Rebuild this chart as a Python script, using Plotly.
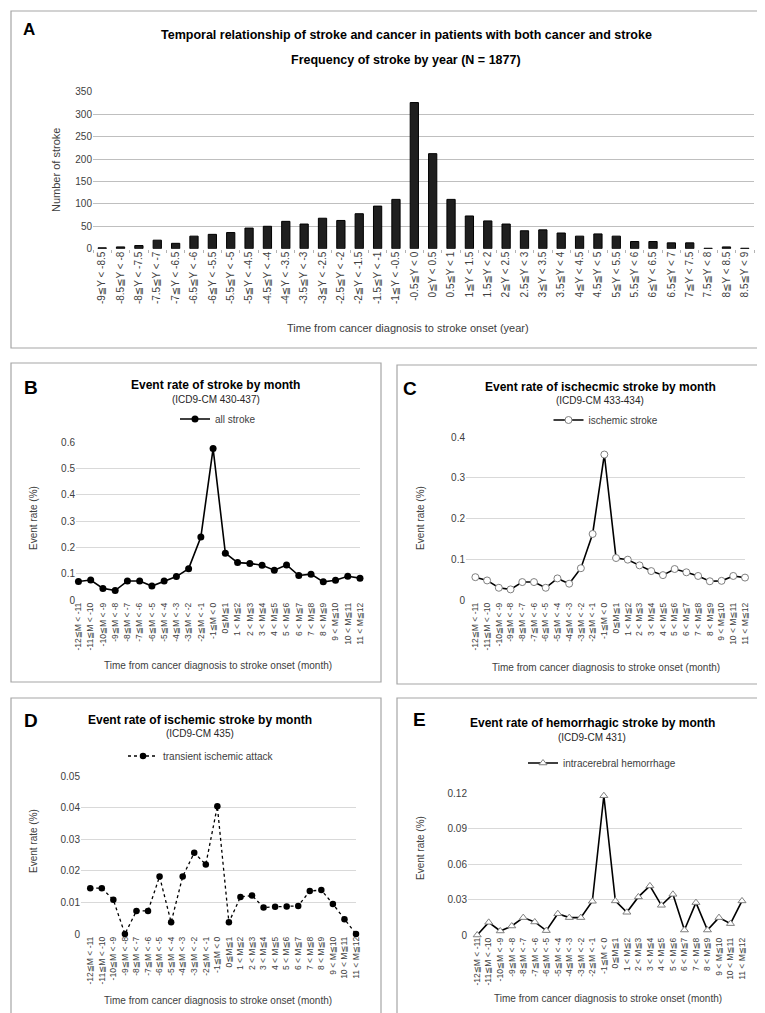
import plotly.graph_objects as go

W, H = 765, 1013

# ---------------- data ----------------
year_labels = ["-9≦Y < -8.5", "-8.5≦Y < -8", "-8≦Y < -7.5", "-7.5≦Y < -7", "-7≦Y < -6.5",
               "-6.5≦Y < -6", "-6≦Y < -5.5", "-5.5≦Y < -5", "-5≦Y < -4.5", "-4.5≦Y < -4",
               "-4≦Y < -3.5", "-3.5≦Y < -3", "-3≦Y < -2.5", "-2.5≦Y < -2", "-2≦Y < -1.5",
               "-1.5≦Y < -1", "-1≦Y < -0.5", "-0.5≦Y < 0", "0≦Y < 0.5", "0.5≦Y < 1",
               "1≦Y < 1.5", "1.5≦Y < 2", "2≦Y < 2.5", "2.5≦Y < 3", "3≦Y < 3.5",
               "3.5≦Y < 4", "4≦Y < 4.5", "4.5≦Y < 5", "5≦Y < 5.5", "5.5≦Y < 6",
               "6≦Y < 6.5", "6.5≦Y < 7", "7≦Y < 7.5", "7.5≦Y < 8", "8≦Y < 8.5", "8.5≦Y < 9"]
stroke_by_year = [2, 4, 7, 19, 12, 28, 32, 36, 46, 50, 61, 55, 68, 63, 78, 95, 110,
                  326, 212, 110, 73, 62, 55, 40, 42, 35, 28, 33, 28, 16, 16, 13, 13, 1, 4, 1]

month_labels = ["-12≦M < -11", "-11≦M < -10", "-10≦M < -9", "-9≦M < -8", "-8≦M < -7",
                "-7≦M < -6", "-6≦M < -5", "-5≦M < -4", "-4≦M < -3", "-3≦M < -2",
                "-2≦M < -1", "-1≦M < 0", "0≦M≦1", "1 < M≦2", "2 < M≦3", "3 < M≦4",
                "4 < M≦5", "5 < M≦6", "6 < M≦7", "7 < M≦8", "8 < M≦9", "9 < M≦10",
                "10 < M≦11", "11 < M≦12"]
all_stroke_rate = [0.070, 0.076, 0.044, 0.036, 0.072, 0.072, 0.053, 0.072, 0.089, 0.119,
                   0.239, 0.575, 0.178, 0.142, 0.139, 0.132, 0.113, 0.133, 0.093, 0.098,
                   0.069, 0.075, 0.090, 0.083]
ischemic_rate = [0.056, 0.048, 0.030, 0.026, 0.044, 0.044, 0.030, 0.053, 0.040, 0.078,
                 0.162, 0.357, 0.103, 0.099, 0.085, 0.071, 0.061, 0.076, 0.068, 0.059,
                 0.046, 0.047, 0.059, 0.055]
tia_rate = [0.0145, 0.0145, 0.0108, 0.0, 0.0073, 0.0073, 0.0182, 0.0037, 0.0182, 0.0257,
            0.0220, 0.0404, 0.0037, 0.0117, 0.0122, 0.0084, 0.0086, 0.0087, 0.0089, 0.0136,
            0.0139, 0.0095, 0.0047, 0.0]
ich_rate = [0.0, 0.0107, 0.0034, 0.0076, 0.0147, 0.0110, 0.0037, 0.0180, 0.0147, 0.0147,
            0.0285, 0.1177, 0.0288, 0.0192, 0.0322, 0.0415, 0.0251, 0.0344, 0.0042, 0.0274,
            0.0042, 0.0147, 0.0096, 0.0288]

# ---------------- helpers ----------------
def px(x):
    return x / W

def py(y):
    return 1 - y / H

FONT = "Liberation Sans, DejaVu Sans, sans-serif"
TICKFONT = "Liberation Sans, DejaVu Sans"
TICK = "#404040"
GRID = "#d9d9d9"

fig = go.Figure()

fig.add_trace(go.Bar(
    x=year_labels, y=stroke_by_year, name="all stroke",
    marker=dict(color="#1f1f1f", line=dict(color="#000000", width=1)),
    xaxis="x", yaxis="y", legend="legend"))

fig.add_trace(go.Scatter(
    x=month_labels, y=all_stroke_rate, name="all stroke", mode="lines+markers",
    line=dict(color="#000000", width=1.6),
    marker=dict(symbol="circle", size=7, color="#000000"),
    xaxis="x2", yaxis="y2", legend="legend2", cliponaxis=False))

fig.add_trace(go.Scatter(
    x=month_labels, y=ischemic_rate, name="ischemic stroke", mode="lines+markers",
    line=dict(color="#000000", width=1.6),
    marker=dict(symbol="circle", size=7, color="#ffffff", line=dict(color="#7f7f7f", width=1)),
    xaxis="x3", yaxis="y3", legend="legend3", cliponaxis=False))

fig.add_trace(go.Scatter(
    x=month_labels, y=tia_rate, name="transient ischemic attack", mode="lines+markers",
    line=dict(color="#000000", width=1.3, dash="dot"),
    marker=dict(symbol="circle", size=6.5, color="#000000"),
    xaxis="x4", yaxis="y4", legend="legend4", cliponaxis=False))

fig.add_trace(go.Scatter(
    x=month_labels, y=ich_rate, name="intracerebral hemorrhage", mode="lines+markers",
    line=dict(color="#000000", width=1.6),
    marker=dict(symbol="triangle-up", size=7, color="#ffffff", line=dict(color="#7f7f7f", width=1)),
    xaxis="x5", yaxis="y5", legend="legend5", cliponaxis=False))


def xcat(x0, x1, anchor, rng, size):
    return dict(domain=[px(x0), px(x1)], anchor=anchor, type="category", range=rng,
                tickangle=-90, tickfont=dict(size=size, color=TICK, family=TICKFONT),
                showgrid=False, zeroline=False, showline=False, ticks="",
                automargin=False, fixedrange=True)


def ylin(y0, y1, anchor, rng, dtick, gridcolor=GRID, size=10):
    return dict(domain=[py(y0), py(y1)], anchor=anchor, range=rng, dtick=dtick,
                tickfont=dict(size=size, color=TICK, family=FONT),
                showgrid=True, gridcolor=gridcolor, gridwidth=1, zeroline=False,
                showline=False, ticks="", automargin=False, fixedrange=True)


layout = dict(
    width=W, height=H, margin=dict(l=0, r=0, t=0, b=0),
    paper_bgcolor="white", plot_bgcolor="white",
    font=dict(family=FONT, color="#262626"),
    bargap=0.55,
    xaxis=dict(domain=[px(85), px(746)], anchor="y", type="category", range=[-0.5, 35.5],
               tickangle=-90, tickfont=dict(size=10, color=TICK, family=TICKFONT),
               showgrid=False, zeroline=False, showline=False,
               ticks="outside", tickson="boundaries", ticklen=3, tickcolor="#b3b3b3",
               automargin=False, fixedrange=True),
    yaxis=ylin(240.7, 83.8, "x", [0, 350], 50, gridcolor="#bfbfbf"),
    xaxis2=xcat(68, 352, "y2", [-0.2, 23], 8.5),
    yaxis2=ylin(592, 434, "x2", [0, 0.6], 0.1),
    xaxis3=xcat(458, 737, "y3", [-0.8, 23], 8.5),
    yaxis3=ylin(592, 429, "x3", [0, 0.4], 0.1),
    xaxis4=xcat(73, 348, "y4", [-0.8, 23], 8.5),
    yaxis4=ylin(926, 768, "x4", [0, 0.05], 0.01),
    xaxis5=xcat(460, 734, "y5", [-0.8, 23], 8.5),
    yaxis5=ylin(927, 785, "x5", [0, 0.12], 0.03),
)

def leg(x, y, size=10):
    return dict(x=px(x), y=py(y), xanchor="center", yanchor="middle", orientation="h",
                bgcolor="rgba(0,0,0,0)", font=dict(size=size, color=TICK, family=FONT),
                itemwidth=30, tracegroupgap=0)

layout["legend"] = leg(400, 74)
layout["legend2"] = leg(210, 411)
layout["legend3"] = leg(598, 412)
layout["legend4"] = leg(193, 748)
layout["legend5"] = leg(594, 755)

fig.update_layout(**layout)

# panel frames
boxes = [(3, 3, 762, 340), (3, 355, 373, 674), (389, 357, 762, 676),
         (3, 690, 373, 1008), (389, 690, 762, 1008)]
for x0, y0, x1, y1 in boxes:
    fig.add_shape(type="rect", xref="paper", yref="paper",
                  x0=px(x0), x1=px(x1), y0=py(y1), y1=py(y0),
                  line=dict(color="#a6a6a6", width=1.2), fillcolor="rgba(0,0,0,0)")


def ann(text, x, y, size, bold=False, color="#262626", angle=0, xanchor="center"):
    t = f"<b>{text}</b>" if bold else text
    fig.add_annotation(text=t, x=px(x), y=py(y), xref="paper", yref="paper",
                       showarrow=False, xanchor=xanchor, yanchor="middle",
                       textangle=angle, font=dict(size=size, color=color, family=FONT))

# panel letters
ann("A", 13, 22, 17, bold=True, color="#000000", xanchor="left")
ann("B", 14, 379, 19, bold=True, color="#000000", xanchor="left")
ann("C", 393, 380, 19, bold=True, color="#000000", xanchor="left")
ann("D", 14, 712, 19, bold=True, color="#000000", xanchor="left")
ann("E", 403, 711, 19, bold=True, color="#000000", xanchor="left")

# titles
ann("Temporal relationship of stroke and cancer in patients with both cancer and stroke",
    398, 27, 12.5, bold=True, color="#000000")
ann("Frequency of stroke by year (N = 1877)", 398, 52, 12.5, bold=True, color="#000000")

ann("Event rate of stroke by month", 207, 377, 12, bold=True, color="#000000")
ann("(ICD9-CM 430-437)", 208, 392, 10, color="#262626")
ann("Event rate of ischecmic stroke by month", 592, 379, 12, bold=True, color="#000000")
ann("(ICD9-CM 433-434)", 592, 393, 10, color="#262626")
ann("Event rate of ischemic stroke by month", 192, 712, 12, bold=True, color="#000000")
ann("(ICD9-CM 435)", 192, 725, 10, color="#262626")
ann("Event rate of hemorrhagic stroke by month", 584, 715, 12, bold=True, color="#000000")
ann("(ICD9-CM 431)", 584, 729, 10, color="#262626")

# axis titles
ann("Number of stroke", 48, 162, 11, color=TICK, angle=-90)
ann("Time from cancer diagnosis to stroke onset (year)", 400, 320, 11, color=TICK)

for (xc, yc, xt, ytit) in [(25, 510, 210, 657), (412, 510, 598, 659),
                           (25, 833, 210, 992), (412, 840, 600, 990)]:
    ann("Event rate (%)", xc, yc, 10, color=TICK, angle=-90)
    ann("Time from cancer diagnosis to stroke onset (month)", xt, ytit, 10, color=TICK)

fig.write_html("out.html")
